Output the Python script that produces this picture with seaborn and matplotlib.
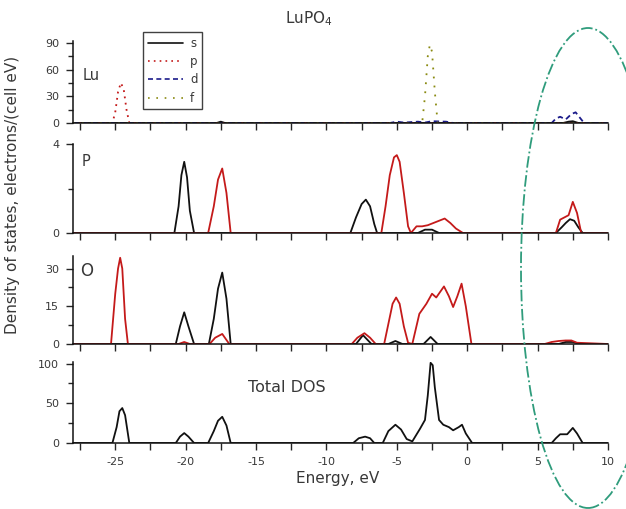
import matplotlib
matplotlib.use("Agg")
import matplotlib.pyplot as plt
import seaborn as sns
from matplotlib.patches import Ellipse
from matplotlib.lines import Line2D
from matplotlib.ticker import MultipleLocator

# ---------------- data ----------------
# Lu panel
lu_s_E = [-28, -17.8, -17.5, -17.2, 6.8, 7.2, 7.5, 7.9, 10]
lu_s = [0, 0, 1.5, 0, 0, 1.5, 2.0, 0, 0]
lu_p_E = [-28, -25.2, -25.0, -24.8, -24.6, -24.4, -24.2, -24.0, 10]
lu_p = [0, 0, 12, 35, 45, 38, 15, 0, 0]
lu_d_E = [-28, -5.5, -5.0, -4.5, -3.5, -3.0, -2.5, -1.5, -1.0, 6.0, 6.3, 6.6, 7.0, 7.4, 7.7, 8.0, 8.3, 10]
lu_d = [0, 0, 1.5, 0.5, 1.5, 0.5, 2, 1.5, 0, 0, 5, 7, 4, 10, 12, 6, 0, 0]
lu_f_E = [-28, -3.2, -3.0, -2.8, -2.65, -2.5, -2.3, -2.1, 10]
lu_f = [0, 0, 30, 75, 88, 80, 35, 0, 0]

# P panel
p_s_E = [-28, -20.8, -20.5, -20.3, -20.1, -19.9, -19.7, -19.4, -8.3, -7.9, -7.5, -7.2, -6.9, -6.6,
         -6.4, -3.5, -3.0, -2.5, -2.0, 6.3, 6.7, 7.0, 7.3, 7.6, 7.9, 8.2, 10]
p_s = [0, 0, 1.2, 2.6, 3.2, 2.5, 1.0, 0, 0, 0.7, 1.3, 1.5, 1.2, 0.4,
       0, 0, 0.15, 0.15, 0, 0, 0.25, 0.45, 0.62, 0.55, 0.25, 0, 0]
p_p_E = [-28, -18.4, -18.0, -17.7, -17.4, -17.1, -16.8, -6.1, -5.8, -5.5, -5.2, -5.0, -4.8, -4.5,
         -4.2, -4.0, -3.6, -3.2, -2.8, -2.4, -2.0, -1.6, -1.2, -0.8, -0.3, 6.3, 6.6, 6.9, 7.2,
         7.5, 7.8, 8.1, 10]
p_p = [0, 0, 1.2, 2.4, 2.9, 1.8, 0, 0, 1.2, 2.6, 3.4, 3.5, 3.2, 1.8,
       0.3, 0, 0.3, 0.3, 0.35, 0.45, 0.55, 0.65, 0.45, 0.2, 0, 0, 0.6, 0.7, 0.8,
       1.4, 0.9, 0, 0]

# O panel
o_s_E = [-28, -20.7, -20.4, -20.1, -19.8, -19.4, -18.35, -18.0, -17.7, -17.4, -17.1, -16.8,
         -7.9, -7.4, -6.8, -5.6, -5.1, -4.6, -3.1, -2.6, -2.1, 6.5, 7.0, 7.5, 8.0, 10]
o_s = [0, 0, 7, 12.6, 7, 0, 0, 10, 22, 28.4, 18, 0,
       0, 3.5, 0, 0, 1.2, 0, 0, 2.8, 0, 0, 0.8, 0.8, 0, 0]
o_p_E = [-28, -25.3, -25.0, -24.8, -24.65, -24.5, -24.3, -24.1, -20.5, -20.1, -19.7, -18.3,
         -17.9, -17.4, -16.9, -8.2, -7.8, -7.3, -6.9, -6.5, -5.9, -5.6, -5.3, -5.05, -4.8, -4.5,
         -4.2, -3.9, -3.4, -2.9, -2.5, -2.2, -1.65, -1.3, -1.0, -0.7, -0.4, -0.1, 0.3, 5.5, 6.0,
         6.5, 7.0, 7.4, 7.8, 10]
o_p = [0, 0, 20, 30, 34.3, 30, 10, 0, 0, 0.8, 0, 0,
       2.5, 4.0, 0, 0, 2.5, 4.3, 2.5, 0, 0, 8, 16, 18.5, 16, 7,
       0.5, 0, 12, 16, 20, 18.5, 22.9, 19, 14.7, 19, 24, 15, 0, 0, 0.8,
       1.2, 1.4, 1.4, 0.5, 0]

# Total DOS
tot_E = [-28, -25.2, -24.9, -24.7, -24.5, -24.3, -24.0, -20.7, -20.4, -20.1, -19.8, -19.4,
         -18.4, -18.0, -17.7, -17.4, -17.1, -16.8, -8.1, -7.7, -7.25, -6.9, -6.6, -6.0, -5.6,
         -5.1, -4.7, -4.3, -3.9, -3.35, -3.0, -2.8, -2.6, -2.45, -2.3, -2.0, -1.7, -1.3, -1.0,
         -0.6, -0.37, -0.1, 0.35, 6.0, 6.3, 6.6, 7.1, 7.5, 7.8, 8.2, 10]
tot = [0, 0, 20, 40, 44, 35, 0, 0, 8, 12.5, 8, 0,
       0, 15, 28, 33, 22, 0, 0, 6, 8, 6, 0, 0, 15,
       23, 17, 5, 2, 18, 29, 60, 101, 98, 70, 29, 23, 20, 16,
       20, 23, 12, 0, 0, 6, 11, 11, 19, 12, 0, 0]

orbitals = ["s", "p", "d", "f"]
panel_names = ["Lu", "P", "O", "Total DOS"]
x_ticklabels = ["-25", "-20", "-15", "-10", "-5", "0", "5", "10"]

# ---------------- styling ----------------
sns.set_style("ticks")
plt.rcParams["font.family"] = ["DejaVu Sans"]
plt.rcParams["axes.linewidth"] = 1.1

BLACK = "#111111"
RED = "#c41a1a"
NAVY = "#1b1b8a"
OLIVE = "#8a8a10"
TXT = "#383838"

fig = plt.figure(figsize=(6.26, 5.09), dpi=100)
W, H = 626.0, 509.0
left, right = 73 / W, 608 / W


def add_panel(top_px, bot_px):
    return fig.add_axes([left, 1 - bot_px / H, right - left, (bot_px - top_px) / H])


ax1 = add_panel(41, 123)
ax2 = add_panel(144, 233)
ax3 = add_panel(256, 344)
ax4 = add_panel(362, 443)
axes = [ax1, ax2, ax3, ax4]

lw = 1.3
# Lu
sns.lineplot(x=lu_s_E, y=lu_s, ax=ax1, color=BLACK, lw=lw, sort=False, estimator=None)
sns.lineplot(x=lu_p_E, y=lu_p, ax=ax1, color=RED, lw=lw, sort=False, estimator=None)
sns.lineplot(x=lu_d_E, y=lu_d, ax=ax1, color=NAVY, lw=lw, sort=False, estimator=None)
sns.lineplot(x=lu_f_E, y=lu_f, ax=ax1, color=OLIVE, lw=lw, sort=False, estimator=None)
ax1.lines[1].set_linestyle((0, (1, 2.5)))
ax1.lines[2].set_linestyle((0, (3, 2)))
ax1.lines[3].set_linestyle((0, (1, 4)))
# P
sns.lineplot(x=p_s_E, y=p_s, ax=ax2, color=BLACK, lw=lw, sort=False, estimator=None)
sns.lineplot(x=p_p_E, y=p_p, ax=ax2, color=RED, lw=lw, sort=False, estimator=None)
# O
sns.lineplot(x=o_s_E, y=o_s, ax=ax3, color=BLACK, lw=lw, sort=False, estimator=None)
sns.lineplot(x=o_p_E, y=o_p, ax=ax3, color=RED, lw=lw, sort=False, estimator=None)
# Total
sns.lineplot(x=tot_E, y=tot, ax=ax4, color=BLACK, lw=lw, sort=False, estimator=None)

ylims = [(0, 92), (0, 4), (0, 35), (0, 102)]
ymaj = [30, 4, 15, 50]
ymin = [15, 2, 7.5, 25]
for ax, yl, mj, mn in zip(axes, ylims, ymaj, ymin):
    ax.set_xlim(-28, 10)
    ax.set_ylim(*yl)
    ax.xaxis.set_major_locator(MultipleLocator(5))
    ax.xaxis.set_minor_locator(MultipleLocator(2.5))
    ax.yaxis.set_major_locator(MultipleLocator(mj))
    ax.yaxis.set_minor_locator(MultipleLocator(mn))
    ax.tick_params(axis="both", which="major", direction="out", length=5, width=1.0,
                   labelsize=8, labelcolor=TXT, pad=5)
    ax.tick_params(axis="both", which="minor", direction="out", length=3.5, width=1.0)
    ax.tick_params(axis="x", which="minor", length=5)
    sns.despine(ax=ax)
    ax.set_xlabel("")
    ax.set_ylabel("")
    for s in ["left", "bottom"]:
        ax.spines[s].set_color(BLACK)

for ax in axes[:3]:
    ax.set_xticklabels([])
ax4.set_xticks([-25, -20, -15, -10, -5, 0, 5, 10])
ax4.set_xticklabels(x_ticklabels)

# panel labels
fig.text(83 / W, 1 - 76 / H, panel_names[0], fontsize=10.5, color=TXT, va="center", ha="left")
fig.text(82 / W, 1 - 161 / H, panel_names[1], fontsize=10.5, color=TXT, va="center", ha="left")
fig.text(80 / W, 1 - 271 / H, panel_names[2], fontsize=12, color=TXT, va="center", ha="left")
fig.text(248 / W, 1 - 387 / H, panel_names[3], fontsize=11.5, color=TXT, va="center", ha="left")

fig.text(309 / W, 1 - 19 / H, "LuPO$_4$", fontsize=11, color=TXT, ha="center", va="center")
fig.text(338 / W, 1 - 479 / H, "Energy, eV", fontsize=11, color=TXT, ha="center", va="center")
fig.text(13 / W, 1 - 195 / H, "Density of states, electrons/(cell eV)", fontsize=11,
         color=TXT, rotation=90, ha="center", va="center")

# legend
handles = [
    Line2D([], [], color=BLACK, lw=1.2, ls="-"),
    Line2D([], [], color=RED, lw=1.2, ls=(0, (1, 2.5))),
    Line2D([], [], color=NAVY, lw=1.2, ls=(0, (3, 2))),
    Line2D([], [], color=OLIVE, lw=1.2, ls=(0, (1, 4))),
]
leg = fig.legend(handles, orbitals, loc="upper left", bbox_to_anchor=(143 / W, 1 - 32 / H),
                 bbox_transform=fig.transFigure, fontsize=8.5, frameon=True, fancybox=False,
                 handlelength=3.0, handletextpad=0.6, labelspacing=0.45, borderpad=0.4,
                 borderaxespad=0.0)
leg.get_frame().set_edgecolor(BLACK)
leg.get_frame().set_linewidth(1.0)
for t in leg.get_texts():
    t.set_color(TXT)

# highlight ellipse
ell = Ellipse((588 / W, 1 - 268 / H), 134 / W, 480 / H, transform=fig.transFigure,
              fill=False, edgecolor="#2f9c7c", lw=1.3, ls="-.", clip_on=False)
fig.patches.append(ell)

fig.savefig("out.png", dpi=100)
